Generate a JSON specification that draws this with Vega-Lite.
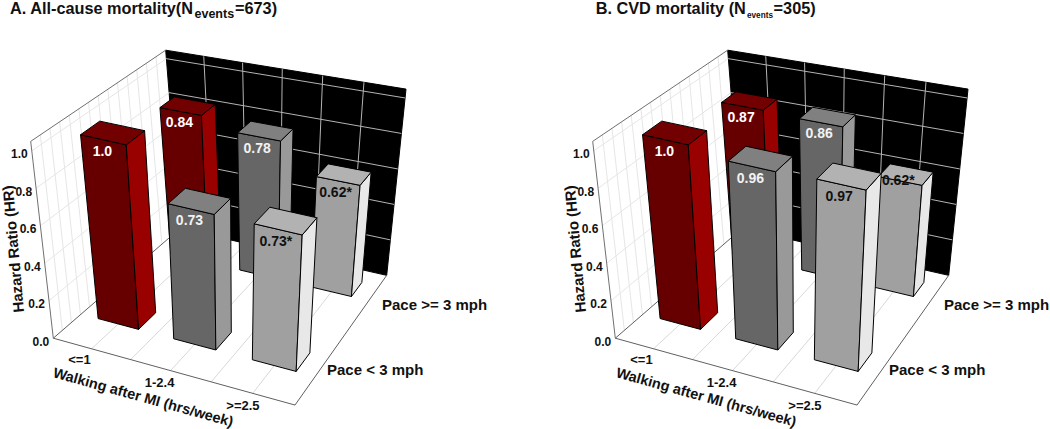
{
"$schema":"https://vega.github.io/schema/vega-lite/v6.json",
"width":1050,"height":429,"padding":0,
"autosize":{"type":"fit","contains":"padding"},
"background":"white",
"config":{"view":{"stroke":null},"text":{"font":"Liberation Sans","fontWeight":"bold","color":"#111111"}},
"layer":[
{
"data":{"values":[
{"kind":"wall"},
{"kind":"line","g":"leftV","q":1},{"kind":"line","g":"leftV","q":2},{"kind":"line","g":"leftV","q":3},{"kind":"line","g":"leftV","q":4},{"kind":"line","g":"leftV","q":5},{"kind":"line","g":"leftV","q":6},{"kind":"line","g":"leftV","q":7},{"kind":"line","g":"leftV","q":8},{"kind":"line","g":"leftV","q":9},{"kind":"line","g":"leftV","q":10},{"kind":"line","g":"leftV","q":11},{"kind":"line","g":"leftV","q":12},{"kind":"line","g":"leftV","q":13},
{"kind":"line","g":"leftH","hr":0.2},{"kind":"line","g":"leftH","hr":0.4},{"kind":"line","g":"leftH","hr":0.6},{"kind":"line","g":"leftH","hr":0.8},{"kind":"line","g":"leftH","hr":1.0},
{"kind":"line","g":"backH","hr":0.2},{"kind":"line","g":"backH","hr":0.4},{"kind":"line","g":"backH","hr":0.6},{"kind":"line","g":"backH","hr":0.8},{"kind":"line","g":"backH","hr":1.0},
{"kind":"line","g":"backV","s":0.1667},{"kind":"line","g":"backV","s":0.3333},{"kind":"line","g":"backV","s":0.5},{"kind":"line","g":"backV","s":0.6667},{"kind":"line","g":"backV","s":0.8333},
{"kind":"line","g":"floor","s":0.1667},{"kind":"line","g":"floor","s":0.3333},{"kind":"line","g":"floor","s":0.5},{"kind":"line","g":"floor","s":0.6667},{"kind":"line","g":"floor","s":0.8333},
{"kind":"line","g":"frameTop"},{"kind":"line","g":"frameZ"},{"kind":"line","g":"frameFront"},{"kind":"line","g":"frameRight"},{"kind":"line","g":"frameLeft"},
{"kind":"ztick","hr":0.0,"text":"0.0"},{"kind":"ztick","hr":0.2,"text":"0.2"},{"kind":"ztick","hr":0.4,"text":"0.4"},{"kind":"ztick","hr":0.6,"text":"0.6"},{"kind":"ztick","hr":0.8,"text":"0.8"},{"kind":"ztick","hr":1.0,"text":"1.0"},
{"kind":"wtick","s":0.1667,"text":"<=1"},{"kind":"wtick","s":0.5,"text":"1-2.4"},{"kind":"wtick","s":0.8333,"text":">=2.5"},
{"kind":"bar","panel":"A","walk":"<=1","pace":">= 3 mph","hr":0.84,"text":"0.84"},
{"kind":"bar","panel":"A","walk":"1-2.4","pace":">= 3 mph","hr":0.78,"text":"0.78"},
{"kind":"bar","panel":"A","walk":">=2.5","pace":">= 3 mph","hr":0.62,"text":"0.62*"},
{"kind":"bar","panel":"A","walk":"<=1","pace":"< 3 mph","hr":1.0,"text":"1.0"},
{"kind":"bar","panel":"A","walk":"1-2.4","pace":"< 3 mph","hr":0.73,"text":"0.73"},
{"kind":"bar","panel":"A","walk":">=2.5","pace":"< 3 mph","hr":0.73,"text":"0.73*"},
{"kind":"bar","panel":"B","walk":"<=1","pace":">= 3 mph","hr":0.87,"text":"0.87"},
{"kind":"bar","panel":"B","walk":"1-2.4","pace":">= 3 mph","hr":0.86,"text":"0.86"},
{"kind":"bar","panel":"B","walk":">=2.5","pace":">= 3 mph","hr":0.62,"text":"0.62*"},
{"kind":"bar","panel":"B","walk":"<=1","pace":"< 3 mph","hr":1.0,"text":"1.0"},
{"kind":"bar","panel":"B","walk":"1-2.4","pace":"< 3 mph","hr":0.96,"text":"0.96"},
{"kind":"bar","panel":"B","walk":">=2.5","pace":"< 3 mph","hr":0.97,"text":"0.97"}
]},
"transform":[
{"calculate":"datum.kind=='bar'?[datum.panel]:['A','B']","as":"ps"},
{"flatten":["ps"],"as":["p"]},
{"calculate":"datum.p=='A'?0:562","as":"off"},
{"calculate":"indexof(['<=1','1-2.4','>=2.5'],datum.walk)","as":"wi"},
{"calculate":"datum.pace=='< 3 mph'?0:1","as":"ri"},
{"calculate":"[0.0767,0.41,0.743][datum.wi]","as":"s0"},
{"calculate":"datum.s0+0.18","as":"s1"},
{"calculate":"datum.s0*(0.94+0.06*datum.s0)","as":"u0"},
{"calculate":"datum.s1*(0.94+0.06*datum.s1)","as":"u1"},
{"calculate":"[0.22,0.805][datum.ri]","as":"v0"},
{"calculate":"[0.365,0.915][datum.ri]","as":"v1"},
{"calculate":"datum.hr/1.05","as":"T"},
{"calculate":"datum.s*(0.94+0.06*datum.s)","as":"U"},
{"calculate":"datum.q/14","as":"V"},
{"calculate":"datum.T-((datum.p=='B'&&datum.hr==0.62)?0:0.063)","as":"LT"},
{"calculate":"datum.kind=='bar'?[{f:'front',i:0,u:datum.u0,v:datum.v0,t:0},{f:'front',i:1,u:datum.u1,v:datum.v0,t:0},{f:'front',i:2,u:datum.u1,v:datum.v0,t:datum.T},{f:'front',i:3,u:datum.u0,v:datum.v0,t:datum.T},{f:'front',i:4,u:datum.u0,v:datum.v0,t:0},{f:'side',i:0,u:datum.u1,v:datum.v0,t:0},{f:'side',i:1,u:datum.u1,v:datum.v1,t:0},{f:'side',i:2,u:datum.u1,v:datum.v1,t:datum.T},{f:'side',i:3,u:datum.u1,v:datum.v0,t:datum.T},{f:'side',i:4,u:datum.u1,v:datum.v0,t:0},{f:'top',i:0,u:datum.u0,v:datum.v0,t:datum.T},{f:'top',i:1,u:datum.u1,v:datum.v0,t:datum.T},{f:'top',i:2,u:datum.u1,v:datum.v1,t:datum.T},{f:'top',i:3,u:datum.u0,v:datum.v1,t:datum.T},{f:'top',i:4,u:datum.u0,v:datum.v0,t:datum.T},{f:'label',i:0,u:(datum.u0+datum.u1)/2,v:datum.v0,t:datum.LT}]:datum.kind=='wall'?[{f:'wall',i:0,u:0,v:1,t:0},{f:'wall',i:1,u:1,v:1,t:0},{f:'wall',i:2,u:1,v:1,t:1},{f:'wall',i:3,u:0,v:1,t:1},{f:'wall',i:4,u:0,v:1,t:0}]:datum.kind=='ztick'?[{f:'ztick',i:0,u:0,v:0,t:datum.T}]:datum.kind=='wtick'?[{f:'wtick',i:0,u:datum.U,v:-0.1,t:0}]:datum.g=='leftV'?[{i:0,u:0,v:datum.V,t:0},{i:1,u:0,v:datum.V,t:1}]:datum.g=='leftH'?[{i:0,u:0,v:0,t:datum.T},{i:1,u:0,v:1,t:datum.T}]:datum.g=='backH'?[{i:0,u:0,v:1,t:datum.T},{i:1,u:1,v:1,t:datum.T}]:datum.g=='backV'?[{i:0,u:datum.U,v:1,t:0},{i:1,u:datum.U,v:1,t:1}]:datum.g=='floor'?[{i:0,u:datum.U,v:0,t:0},{i:1,u:datum.U,v:1,t:0}]:datum.g=='frameTop'?[{i:0,u:0,v:0,t:1},{i:1,u:0,v:1,t:1}]:datum.g=='frameZ'?[{i:0,u:0,v:0,t:0},{i:1,u:0,v:0,t:1}]:datum.g=='frameFront'?[{i:0,u:0,v:0,t:0},{i:1,u:1,v:0,t:0}]:datum.g=='frameRight'?[{i:0,u:1,v:0,t:0},{i:1,u:1,v:1,t:0}]:[{i:0,u:0,v:0,t:0},{i:1,u:0,v:1,t:0}]","as":"pts"},
{"flatten":["pts"],"as":["c"]},
{"calculate":"datum.off+(1-datum.c.t)*((1-datum.c.v)*((1-datum.c.u)*53.3+datum.c.u*295)+datum.c.v*((1-datum.c.u)*180+datum.c.u*386.7))+datum.c.t*((1-datum.c.v)*((1-datum.c.u)*30.7+datum.c.u*304)+datum.c.v*((1-datum.c.u)*165.7+datum.c.u*406))","as":"px"},
{"calculate":"(1-datum.c.t)*((1-datum.c.v)*((1-datum.c.u)*338+datum.c.u*405)+datum.c.v*((1-datum.c.u)*228+datum.c.u*275))+datum.c.t*((1-datum.c.v)*((1-datum.c.u)*140.7+datum.c.u*205)+datum.c.v*((1-datum.c.u)*49.3+datum.c.u*88.3))","as":"py"},
{"calculate":"datum.c.i","as":"idx"},
{"calculate":"datum.c.f","as":"face"},
{"calculate":"(datum.wi==0?'red':datum.wi==1?'dark':'light')+' '+datum.face","as":"shade"},
{"calculate":"datum.p+'|'+datum.kind+'|'+datum.walk+'|'+datum.pace+'|'+datum.face","as":"fid"},
{"calculate":"datum.p+'|'+datum.g+'|'+datum.hr+'|'+datum.s+'|'+datum.q","as":"lid"}
],
"encoding":{
"x":{"field":"px","type":"quantitative","scale":{"domain":[0,1050],"nice":false,"zero":false},"axis":null},
"y":{"field":"py","type":"quantitative","scale":{"domain":[429,0],"nice":false,"zero":false},"axis":null}
},
"layer":[
{"transform":[{"filter":"datum.kind=='wall'"}],
 "mark":{"type":"line","fill":"#000000","stroke":"#000000","strokeWidth":1},
 "encoding":{"detail":{"field":"fid"},"order":{"field":"idx"}}},
{"transform":[{"filter":"datum.kind=='line'"}],
 "mark":{"type":"line","strokeWidth":1},
 "encoding":{"detail":{"field":"lid"},"order":{"field":"idx"},
  "stroke":{"field":"g","type":"nominal","legend":null,"scale":{"domain":["leftV","leftH","backH","backV","floor","frameTop","frameZ","frameFront","frameRight","frameLeft"],"range":["#e6e6e6","#e6e6e6","#b4b4b4","#b4b4b4","#d8d8d8","#707070","#707070","#606060","#606060","#606060"]}}}},
{"transform":[{"filter":"datum.kind=='bar'&&datum.face!='label'"}],
 "mark":{"type":"line","stroke":"#000000","strokeWidth":1,"strokeJoin":"round"},
 "encoding":{"detail":{"field":"fid"},"order":{"field":"idx"},
  "fill":{"field":"shade","type":"nominal","legend":null,"scale":{"domain":["red front","red side","red top","dark front","dark side","dark top","light front","light side","light top"],"range":["#660000","#990000","#730000","#666666","#999999","#808080","#a0a0a0","#e8e8e8","#b2b2b2"]}}}},
{"transform":[{"filter":"datum.face=='label'"}],
 "mark":{"type":"text","fontSize":14,"dx":-2,"baseline":"middle"},
 "encoding":{"text":{"field":"text"},
  "color":{"field":"wi","type":"nominal","legend":null,"scale":{"domain":[0,1,2],"range":["#ffffff","#f2f2f2","#111111"]}}}},
{"transform":[{"filter":"datum.kind=='ztick'"}],
 "mark":{"type":"text","fontSize":12,"align":"right","baseline":"middle","dx":-4,"dy":3.5},
 "encoding":{"text":{"field":"text"}}},
{"transform":[{"filter":"datum.kind=='wtick'"}],
 "mark":{"type":"text","fontSize":13,"align":"center","baseline":"middle"},
 "encoding":{"text":{"field":"text"}}}
]},
{"data":{"values":[{"n":1}]},"mark":{"type":"text","x":10,"y":12.7,"text":"A. All-cause mortality(N","fontSize":16.3,"align":"left","baseline":"alphabetic"}},
{"data":{"values":[{"n":1}]},"mark":{"type":"text","x":194.5,"y":16.7,"text":"events","fontSize":12.5,"align":"left","baseline":"alphabetic"}},
{"data":{"values":[{"n":1}]},"mark":{"type":"text","x":235,"y":12.7,"text":"=673)","fontSize":16.3,"align":"left","baseline":"alphabetic"}},
{"data":{"values":[{"n":1}]},"mark":{"type":"text","x":595.7,"y":13.3,"text":"B. CVD mortality (N","fontSize":16.3,"align":"left","baseline":"alphabetic"}},
{"data":{"values":[{"n":1}]},"mark":{"type":"text","x":747,"y":17,"text":"events","fontSize":8.2,"align":"left","baseline":"alphabetic"}},
{"data":{"values":[{"n":1}]},"mark":{"type":"text","x":773.6,"y":13.3,"text":"=305)","fontSize":16.3,"align":"left","baseline":"alphabetic"}},
{"data":{"values":[{"n":1}]},"mark":{"type":"text","x":13.5,"y":248,"text":"Hazard Ratio (HR)","fontSize":15,"angle":265,"align":"center","baseline":"middle"}},
{"data":{"values":[{"n":1}]},"mark":{"type":"text","x":575.5,"y":248,"text":"Hazard Ratio (HR)","fontSize":15,"angle":265,"align":"center","baseline":"middle"}},
{"data":{"values":[{"n":1}]},"mark":{"type":"text","x":143,"y":397,"text":"Walking after MI (hrs/week)","fontSize":14.5,"angle":15.5,"align":"center","baseline":"middle"}},
{"data":{"values":[{"n":1}]},"mark":{"type":"text","x":706,"y":397,"text":"Walking after MI (hrs/week)","fontSize":14.5,"angle":15.5,"align":"center","baseline":"middle"}},
{"data":{"values":[{"n":1}]},"mark":{"type":"text","x":382,"y":304,"text":"Pace >= 3 mph","fontSize":15,"align":"left","baseline":"middle"}},
{"data":{"values":[{"n":1}]},"mark":{"type":"text","x":327,"y":369,"text":"Pace < 3 mph","fontSize":15,"align":"left","baseline":"middle"}},
{"data":{"values":[{"n":1}]},"mark":{"type":"text","x":944,"y":304,"text":"Pace >= 3 mph","fontSize":15,"align":"left","baseline":"middle"}},
{"data":{"values":[{"n":1}]},"mark":{"type":"text","x":889,"y":369,"text":"Pace < 3 mph","fontSize":15,"align":"left","baseline":"middle"}}
]
}
